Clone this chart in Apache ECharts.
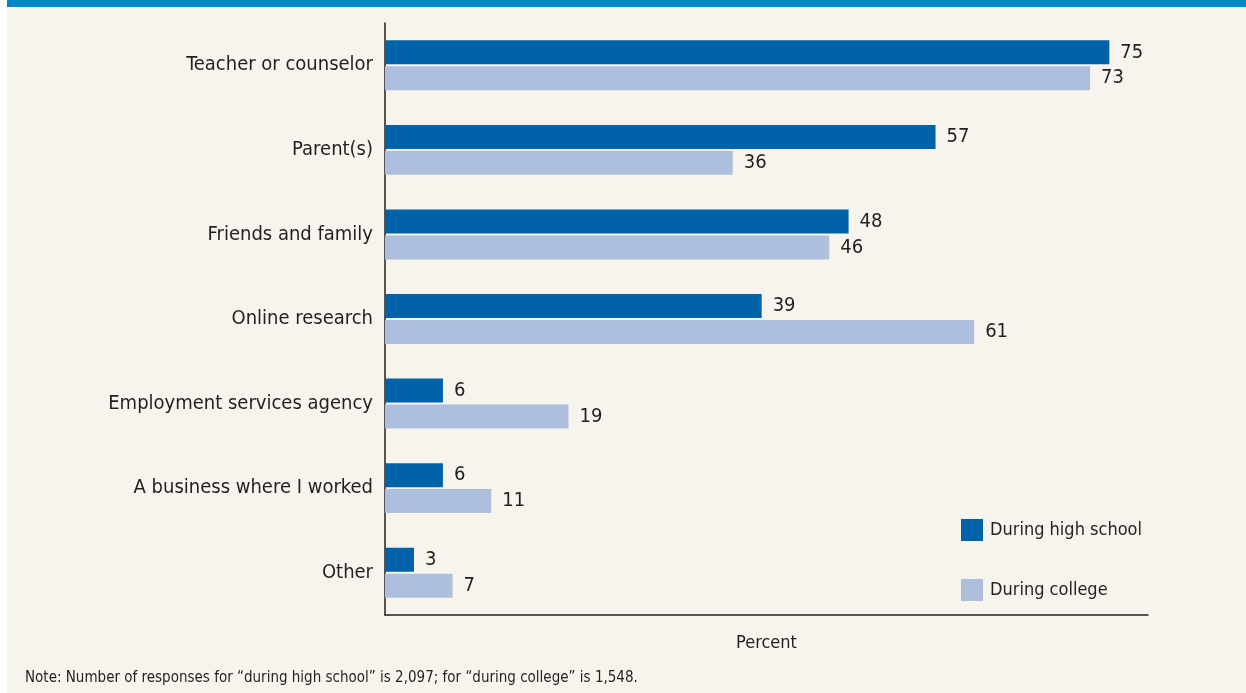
<!DOCTYPE html>
<html>
<head>
<meta charset="utf-8">
<script src="https://cdn.jsdelivr.net/npm/echarts@6/dist/echarts.min.js"></script>
<style>
html,body{margin:0;padding:0;background:#ffffff;}
#chart{width:1246px;height:693px;}
</style>
</head>
<body>
<div id="chart"></div>
<script>
var categories = ["Teacher or counselor","Parent(s)","Friends and family","Online research","Employment services agency","A business where I worked","Other"];
var highSchool = [75,57,48,39,6,6,3];
var college = [73,36,46,61,19,11,7];
var seriesNames = ["During high school","During college"];
var noteText = "Note: Number of responses for \u201cduring high school\u201d is 2,097; for \u201cduring college\u201d is 1,548.";

var FONT = "'Liberation Sans Narrow', 'DejaVu Sans Condensed', 'Liberation Sans', sans-serif";
var TXT = "#231f20";
var chart = echarts.init(document.getElementById('chart'));
var labelStyle = {show:true, position:'right', distance:11, color:TXT, fontFamily:FONT, fontSize:20};
chart.setOption({
  backgroundColor:'#ffffff',
  animation:false,
  graphic:[
    {type:'rect', z:-10, shape:{x:7,y:0,width:1239,height:693}, style:{fill:'#f7f4ee'}},
    {type:'rect', z:-9, shape:{x:7,y:0,width:1239,height:7}, style:{fill:'#0085c8'}},
    {type:'text', left:25, top:671, style:{text:noteText, fill:TXT, font:"15px " + FONT}}
  ],
  legend:{
    orient:'vertical', left:956, top:514, itemWidth:22, itemHeight:22, itemGap:38,
    icon:'rect', data:seriesNames,
    textStyle:{color:TXT, fontFamily:FONT, fontSize:18, padding:[0,0,0,2]}
  },
  grid:{left:385, top:23, width:763, height:592, containLabel:false},
  xAxis:{
    type:'value', min:0, max:79,
    name:'Percent', nameLocation:'middle', nameGap:19,
    nameTextStyle:{color:TXT, fontFamily:FONT, fontSize:18},
    axisLine:{show:true, lineStyle:{color:TXT, width:1.5}},
    axisTick:{show:false}, axisLabel:{show:false}, splitLine:{show:false}
  },
  yAxis:{
    type:'category', data:categories, inverse:true,
    axisLine:{show:true, lineStyle:{color:TXT, width:1.5}},
    axisTick:{show:false},
    axisLabel:{color:TXT, fontFamily:FONT, fontSize:20, margin:12, padding:[10,0,0,0]}
  },
  series:[
    {name:seriesNames[0], type:'bar', data:highSchool, barWidth:24, barGap:'8%',
     itemStyle:{color:'#0063a8'}, label:labelStyle},
    {name:seriesNames[1], type:'bar', data:college, barWidth:24, barGap:'8%',
     itemStyle:{color:'#aebfdd'}, label:labelStyle}
  ]
});
</script>
</body>
</html>
